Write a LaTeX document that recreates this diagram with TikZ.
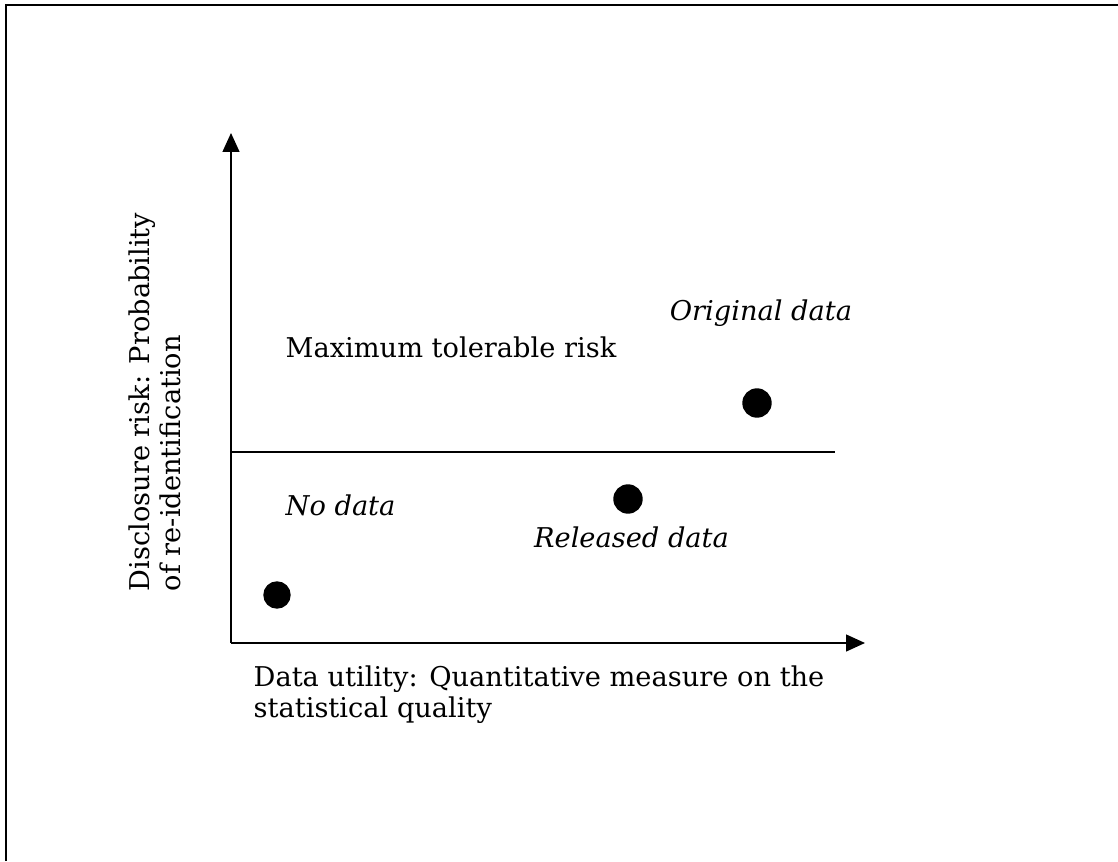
\documentclass[tikz,border=0pt]{standalone}
\usepackage{fontspec}
\setmainfont{DejaVu Serif}
\usepackage{tikz}
\usetikzlibrary{arrows.meta}

\begin{document}
\begin{tikzpicture}[line width = 0.8pt, font = \fontsize{15.5}{17.5}\selectfont,
  dot/.style = {circle, fill = black, draw = black, inner sep = 0pt, minimum size = 0.56cm}]
\useasboundingbox (0,0) rectangle (22.36,17.22);
\draw [line width = 1.6pt] (0.12,0) -- (0.12,17.12) -- (22.36,17.12);
\coordinate (o) at (4.62,4.36);
\coordinate (ytip) at (4.62,14.56);
\coordinate (xtip) at (17.3,4.36);
\coordinate (m1) at (4.62,8.18);
\coordinate (m2) at (16.7,8.18);
\draw [-{Triangle[length = 0.38cm, width = 0.34cm]}] (o) -- (ytip);
\draw [-{Triangle[length = 0.38cm, width = 0.34cm]}] (o) -- (xtip);
\draw [-] (m1) -- (m2);
\draw (5.54,5.32) node[dot, minimum size = 0.52cm](d1){}
    (12.56,7.24) node[dot](d2){}
    (15.14,9.16) node[dot](d3){};
\node[anchor = west, inner sep = 0pt](max) at (5.7,10.28) {Maximum tolerable risk};
\node[inner sep = 0pt](orig) at (15.22,10.96) {\itshape Original data};
\node[anchor = west, inner sep = 0pt](nod) at (5.7,7.12) {\itshape No data};
\node[inner sep = 0pt](rel) at (12.63,6.48) {\itshape Released data};
\node[anchor = north west, align = left, inner sep = 0pt](xlab) at (5.06,3.92)
    {Data utility: Quantitative measure on the\\statistical quality};
\node[anchor = north west, align = left, inner sep = 0pt, rotate = 90](ylab) at (2.56,5.38)
    {Disclosure risk: Probability\\of re-identification};
\end{tikzpicture}
\end{document}
